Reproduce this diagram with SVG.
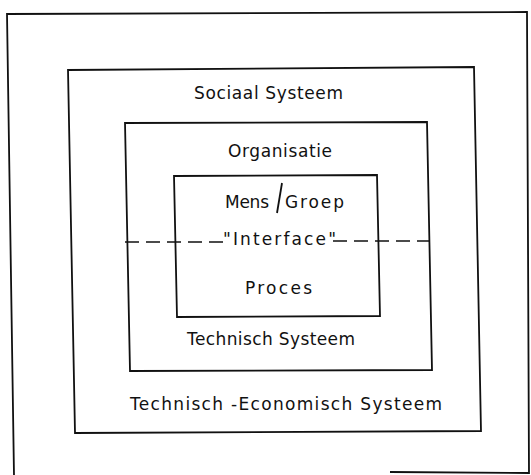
<svg xmlns="http://www.w3.org/2000/svg" width="531" height="475" viewBox="0 0 531 475">
<style>
.box{fill:none;stroke:#111;stroke-width:1.8;stroke-linejoin:miter}
.lbl{font-family:"DejaVu Sans","Liberation Sans",sans-serif;font-size:17px;fill:#111}
.dash{stroke:#111;stroke-width:1.6;stroke-dasharray:14 7;fill:none}
</style>
<rect width="531" height="475" fill="#fff"/>
<g id="outer">
<polyline class="box" points="14,475 7,14 527,12 529,473 390,472"/>
</g>
<g id="technisch-economisch">
<polygon class="box" points="68,70 474,67 481,431 75,433"/>
<text class="lbl" x="130" y="410" textLength="312" lengthAdjust="spacing">Technisch -Economisch Systeem</text>
</g>
<g id="sociaal">
<text class="lbl" x="194" y="99" textLength="149" lengthAdjust="spacing">Sociaal Systeem</text>
</g>
<g id="organisatie">
<polygon class="box" points="125,123 427,122 432,370 130,371"/>
<text class="lbl" x="228" y="157" textLength="104" lengthAdjust="spacing">Organisatie</text>
</g>
<g id="technisch-systeem">
<text class="lbl" x="187" y="345" textLength="168" lengthAdjust="spacing">Technisch Systeem</text>
</g>
<g id="mens-proces">
<polygon class="box" points="174,176 377,175 380,316 177,317"/>
<text class="lbl" x="225" y="208" textLength="44" lengthAdjust="spacing">Mens</text>
<line x1="282" y1="183" x2="277" y2="213" stroke="#111" stroke-width="1.8"/>
<text class="lbl" x="285" y="208" textLength="59" lengthAdjust="spacing">Groep</text>
<text class="lbl" x="245" y="294" textLength="67" lengthAdjust="spacing">Proces</text>
</g>
<g id="interface">
<text class="lbl" x="223" y="245" textLength="113" lengthAdjust="spacing">"Interface"</text>
</g>
<g id="connectors">
<line class="dash" x1="125" y1="242" x2="226" y2="242"/>
<line class="dash" x1="333" y1="241" x2="430" y2="241"/>
</g>
</svg>
